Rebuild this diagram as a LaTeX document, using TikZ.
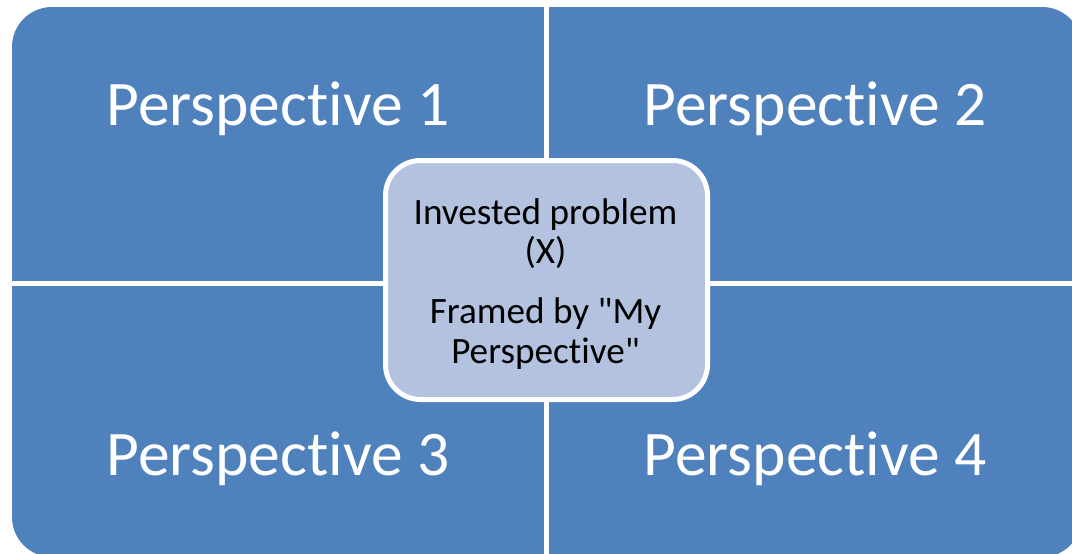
\documentclass[tikz,border=0pt]{standalone}
\usepackage{fontspec}
\setmainfont{Carlito}[Ligatures={TeXOff,NoCommon}]
\definecolor{quadblue}{HTML}{4F81BD}
\definecolor{centerfill}{HTML}{B3C3DF}
\newcommand{\persp}{Perspect\kern0pt ive}
\tikzset{
  quadtext/.style={anchor=base, text=white, font=\fontsize{63.5}{76}\selectfont, inner sep=0pt},
  centertext/.style={anchor=base, text=black, font=\fontsize{37.2}{44}\selectfont, inner sep=0pt},
  centerbox/.style={draw=white, line width=5pt, fill=centerfill, rounded corners=35pt,
    minimum width=322pt, minimum height=239pt, inner sep=0pt},
  gap/.style={draw=white, line width=5pt}
}
\begin{document}
\begin{tikzpicture}[x=1pt, y=-1pt]
\useasboundingbox (0,0) rectangle (1072,554);
\clip (0,0) rectangle (1072,554);
% quadrant background
\fill[quadblue, rounded corners=40pt] (12,7) rectangle (1082,557);
\coordinate (vtop) at (546,0);
\coordinate (vbot) at (546,554);
\coordinate (hleft) at (0,283.5);
\coordinate (hright) at (1072,283.5);
\draw[gap] (vtop) -- (vbot);
\draw[gap] (hleft) -- (hright);
% quadrant labels
\node[quadtext] (p1) at (278,125.7) {\persp{} 1};
\node[quadtext] (p2) at (815,125.7) {\persp{} 2};
\node[quadtext] (p3) at (278,475) {\persp{} 3};
\node[quadtext] (p4) at (815,475) {\persp{} 4};
% center box
\node[centerbox] (center) at (546.5,280) {};
\node[centertext] (c1) at (545.5,224) {Invested problem};
\node[centertext] (c2) at (545.5,263) {(X)};
\node[centertext] (c3) at (545.5,323) {Framed by "My};
\node[centertext] (c4) at (545.5,363) {\persp"};
\end{tikzpicture}
\end{document}
